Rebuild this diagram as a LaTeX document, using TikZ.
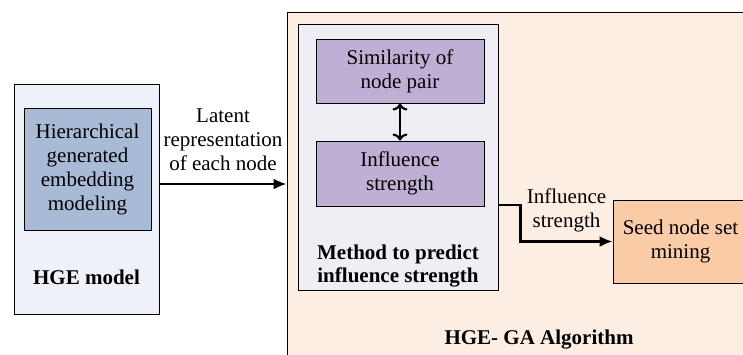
\documentclass[tikz,border=0pt]{standalone}
\usepackage{fontspec}
\setmainfont{Liberation Serif}
\usepackage{tikz}
\usetikzlibrary{shapes,arrows,arrows.meta}
\definecolor{hgefill}{HTML}{EEF1F7}
\definecolor{modfill}{HTML}{A8BAD6}
\definecolor{gafill}{HTML}{FDEEE3}
\definecolor{methfill}{HTML}{EFEEF4}
\definecolor{simfill}{HTML}{C0AFD4}
\definecolor{seedfill}{HTML}{F9CBA6}
\tikzstyle{line} = [draw, -{Latex[length=13pt,width=11pt]}, line width=2.2pt]
\tikzstyle{dline} = [draw, {To[length=7pt,width=15pt]}-{To[length=7pt,width=15pt]}, line width=2.2pt]
\tikzstyle{frame} = [rectangle, draw=black, line width=1pt, inner sep=0pt]
\tikzstyle{process} = [rectangle, draw=black, line width=1pt, text centered, align=center]
\tikzstyle{title} = [font=\rmfamily\fontsize{21}{23}\selectfont\bfseries, align=center]

\begin{document}
\begin{tikzpicture}[x=1pt, y=-1pt, font=\rmfamily\fontsize{21}{24}\selectfont]
				\useasboundingbox (0,0) rectangle (743,354);
				\begin{scope}
				\clip (0,0) rectangle (743,354);
				% Place nodes
				\node [frame, fill=hgefill, minimum width=145pt, minimum height=230pt] (hge) at (86.5,199) {};
				\node [process, fill=modfill, minimum width=127pt, minimum height=122pt] (embed) at (87.5,169) {Hierarchical\\generated\\embedding\\modeling};
				\node [title] (hgelabel) at (86.5,277) {HGE model};
				\node [frame, fill=gafill, minimum width=483pt, minimum height=370pt] (ga) at (528.5,197) {};
				\node [title] (galabel) at (539,340) {HGE- GA Algorithm};
				\node [frame, fill=methfill, minimum width=200pt, minimum height=266pt] (method) at (398,157) {};
				\node [process, fill=simfill, minimum width=168pt, minimum height=64pt] (sim) at (400,71) {Similarity of\\node pair};
				\node [process, fill=simfill, minimum width=168pt, minimum height=65pt] (infl) at (400,173.5) {Influence\\strength};
				\node [title] (methlabel) at (398,266) {Method to predict\\influence strength};
				\node [process, fill=seedfill, minimum width=135pt, minimum height=83pt] (seed) at (680.5,241.5) {Seed node set\\mining};
				% Draw edges
				\path [line] ([yshift=15pt]hge.east) -- node [anchor=south, align=center, yshift=9pt] {Latent\\representation\\of each node} ([yshift=15pt]hge.east -| ga.west);
				\path [dline] (sim.south) -- (infl.north);
				\path [line] ([yshift=-48pt]method.east) -- ++(22,0) |- node [pos=0.75, anchor=south, align=center, yshift=5pt] {Influence\\strength} (seed.west);
				\end{scope}
\end{tikzpicture}
\end{document}
